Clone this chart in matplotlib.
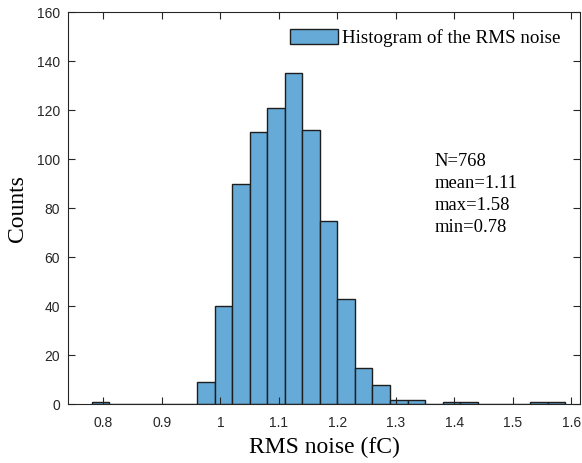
import matplotlib
matplotlib.use('Agg')
import matplotlib.pyplot as plt
import numpy as np

# histogram of RMS noise, bin width 0.03 fC
bin_edges = np.round(np.arange(0.78, 1.5901, 0.03), 2)
counts = [1, 0, 0, 0, 0, 0, 9, 40, 90, 111, 121, 135, 112, 75, 43, 15, 8, 2, 2,
          0, 1, 1, 0, 0, 0, 1, 1]
stats = ['N=768', 'mean=1.11', 'max=1.58', 'min=0.78']
xticks = [0.8, 0.9, 1.0, 1.1, 1.2, 1.3, 1.4, 1.5, 1.6]
xticklabels = ['0.8', '0.9', '1', '1.1', '1.2', '1.3', '1.4', '1.5', '1.6']
yticks = [0, 20, 40, 60, 80, 100, 120, 140, 160]

serif = ['Liberation Serif', 'DejaVu Serif']
sans = ['Liberation Sans', 'DejaVu Sans']

fig = plt.figure(figsize=(5.82, 4.63), dpi=100)
ax = fig.add_axes([0.1174, 0.1264, 0.8792, 0.8476])

ax.bar(bin_edges[:-1], counts, width=0.03, align='edge',
       color='#66aad7', edgecolor='#1e1e1e', linewidth=1.0,
       label='Histogram of the RMS noise')

ax.set_xlim(0.74, 1.615)
ax.set_ylim(0, 160)
ax.set_xticks(xticks)
ax.set_xticklabels(xticklabels, family=sans, fontsize=10, color='#262626')
ax.set_yticks(yticks)
ax.set_yticklabels([str(v) for v in yticks], family=sans, fontsize=10, color='#262626')
ax.tick_params(direction='in', length=5, width=0.8, top=True, right=True,
               color='#262626')
ax.tick_params(axis='x', pad=8)
ax.tick_params(axis='y', pad=6)
for s in ax.spines.values():
    s.set_color('#262626')
    s.set_linewidth(0.8)

ax.set_xlabel('RMS noise (fC)', family=serif, fontsize=17, labelpad=5)
ax.set_ylabel('Counts', family=serif, fontsize=17, labelpad=6)

leg = ax.legend(loc='upper right', frameon=False, prop={'family': serif, 'size': 13.7},
                handlelength=2.5, handleheight=0.8, handletextpad=0.2,
                borderaxespad=0.5, bbox_to_anchor=(0.995, 1.0))

ax.text(0.715, 0.64, '\n'.join(stats), transform=ax.transAxes,
        family=serif, fontsize=13.4, va='top', ha='left', linespacing=1.38)

fig.savefig('out.png', dpi=100)
